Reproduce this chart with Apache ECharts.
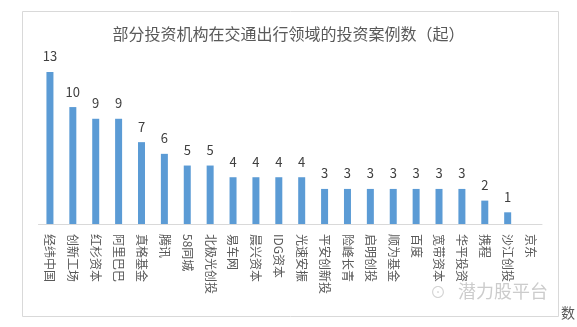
<!DOCTYPE html>
<html><head><meta charset="utf-8">
<script src="https://cdn.jsdelivr.net/npm/echarts@6/dist/echarts.min.js"></script>
<style>html,body{margin:0;padding:0;background:#fff}#c{width:577px;height:327px}</style>
</head><body><div id="c"></div>
<script>
const titleText = '部分投资机构在交通出行领域的投资案例数（起）';
const categories = ['经纬中国','创新工场','红杉资本','阿里巴巴','真格基金','腾讯','58同城','北极光创投','易车网','晨兴资本','IDG资本','光速安振','平安创新投','险峰长青','启明创投','顺为基金','百度','宽带资本','华平投资','携程','沙江创投','京东'];
const values = [13,10,9,9,7,6,5,5,4,4,4,4,3,3,3,3,3,3,3,2,1,null];

const font = '"Noto Sans CJK SC", "Noto Sans", sans-serif';
const chart = echarts.init(document.getElementById('c'), null, {renderer:'canvas'});
chart.setOption({
  animation:false,
  backgroundColor:'#fff',
  title:{text:titleText,left:'center',top:21,textStyle:{fontSize:16,fontWeight:'normal',color:'#595959',fontFamily:font}},
  grid:{left:38.5,right:35,top:72,bottom:103},
  xAxis:{type:'category',data:categories,
    axisLine:{lineStyle:{color:'#d9d9d9'}},axisTick:{show:false},
    axisLabel:{rotate:-90,interval:0,margin:10,fontSize:12,color:'#595959',fontFamily:font}},
  yAxis:{type:'value',min:0,max:13,show:false},
  series:[{type:'bar',data:values,barWidth:7,itemStyle:{color:'#5B9BD5'},
    label:{show:true,position:'top',distance:9,fontSize:13,color:'#404040',fontFamily:font}}],
  graphic:[
    {type:'rect',shape:{x:22.5,y:11.5,width:536,height:305},style:{fill:'none',stroke:'#d9d9d9',lineWidth:1},silent:true},
    {type:'text',left:458,top:282,style:{text:'潜力股平台',fontSize:18,fill:'#cccccc',fontFamily:font}},
    {type:'text',left:430,top:284,style:{text:'⊙',fontSize:16,fill:'#d4d4d4',fontFamily:font}},
    {type:'text',left:561,top:306,style:{text:'数',fontSize:14,fill:'#595959',fontFamily:font}}
  ]
});
</script></body></html>
